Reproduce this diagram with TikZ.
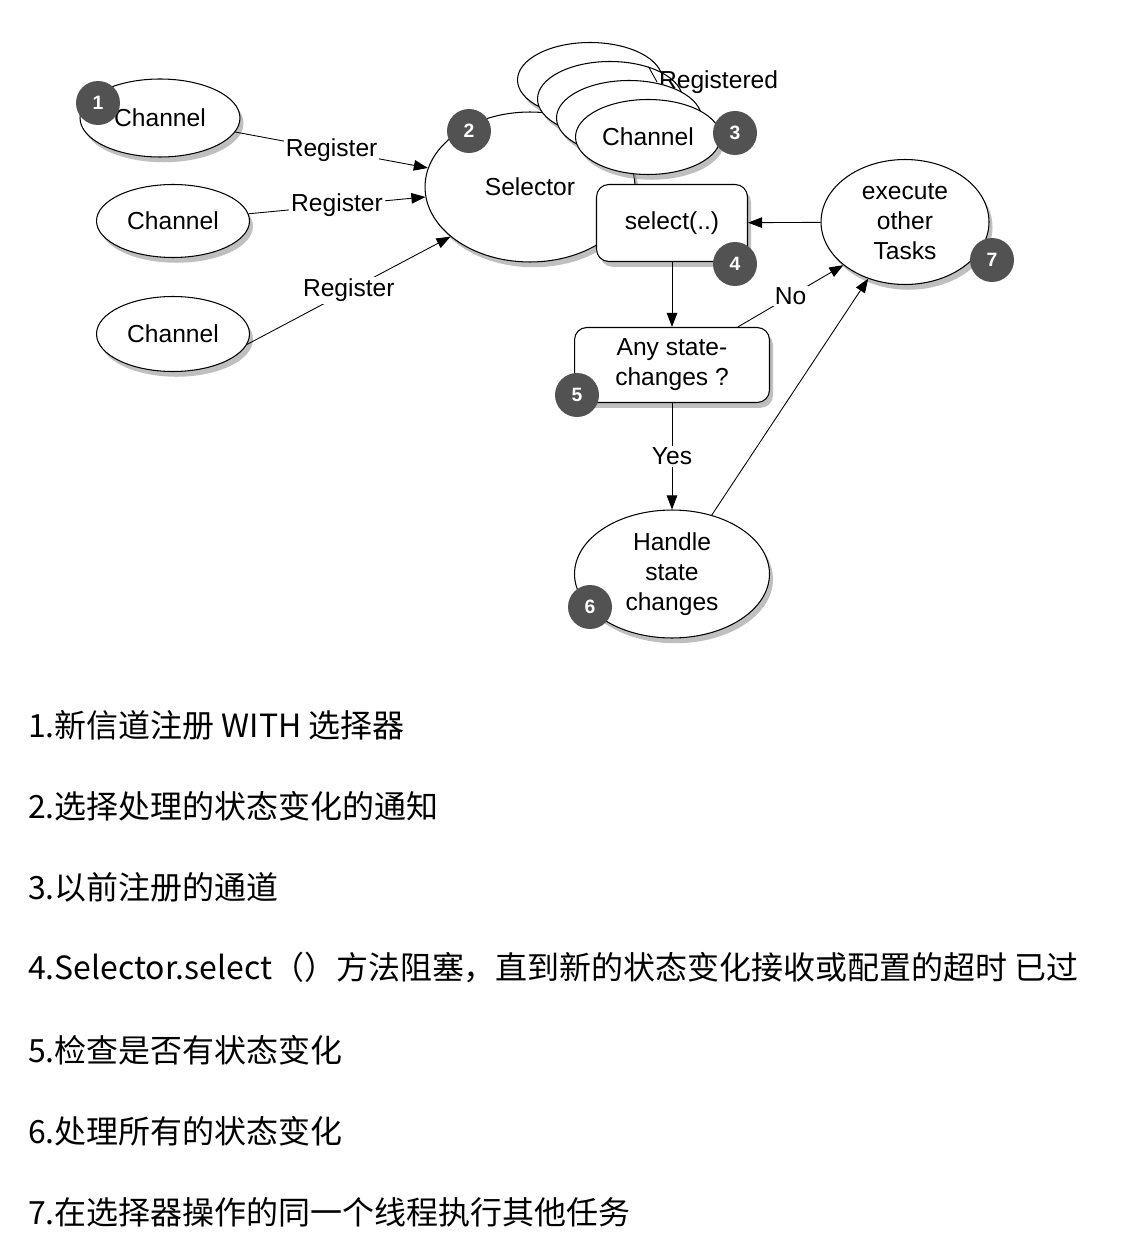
\documentclass[tikz,border=0pt]{standalone}
\usepackage{fontspec}
\setmainfont{Liberation Sans}
\newfontfamily\cjk{Noto Sans CJK SC}
\usetikzlibrary{shapes.geometric,shadows,arrows.meta}

\begin{document}
\begin{tikzpicture}[x=0.02cm,y=-0.02cm,
        every node/.style={font=\fontsize{14}{17}\selectfont},
        ell/.style={draw,ellipse,fill=white,inner sep=0pt,line width=0.6pt,align=center,
                drop shadow={opacity=0.5,shadow xshift=2pt,shadow yshift=-3pt}},
        boxed/.style={draw,rectangle,rounded corners=7pt,fill=white,inner sep=0pt,line width=0.6pt,align=center,
                drop shadow={opacity=0.5,shadow xshift=2pt,shadow yshift=-3pt}},
        badge/.style={circle,fill=black!68,text=white,inner sep=0pt,minimum size=0.88cm,
                font=\fontsize{11}{13}\selectfont\bfseries},
        arr/.style={-{Triangle[length=8pt,width=6pt]},line width=0.5pt},
        lbl/.style={fill=white,inner sep=1pt},
        riga/.style={anchor=west,font=\fontsize{18.2}{22}\selectfont\cjk}]
        \useasboundingbox (0,0) rectangle (1120,1246);
        %canali
        \node[ell,minimum width=3.2cm,minimum height=1.56cm] (ch1) at (160,118) {Channel};
        \node[ell,minimum width=3.06cm,minimum height=1.46cm] (ch2) at (173,221) {Channel};
        \node[ell,minimum width=3.06cm,minimum height=1.5cm] (ch3) at (173,334) {Channel};
        %selettore
        \node[ell,minimum width=4.2cm,minimum height=3cm] (sel) at (530,187) {Selector};
        \node[ell,minimum width=2.9cm,minimum height=1.5cm] (st3) at (590,80) {};
        \node[ell,minimum width=2.9cm,minimum height=1.5cm] (st2) at (610,99) {};
        \node[anchor=west,inner sep=1pt] (reg) at (657,82) {Registered};
        \draw[line width=0.5pt] (st2.40) -- (reg.west);
        \node[ell,minimum width=2.9cm,minimum height=1.5cm] (st1) at (629,118) {};
        \node[ell,minimum width=2.9cm,minimum height=1.5cm] (ch4) at (648,137) {Channel};
        \node[boxed,minimum width=3.02cm,minimum height=1.54cm] (slct) at (672,223) {select(..)};
        %ciclo
        \node[ell,minimum width=3.36cm,minimum height=2.5cm] (exec) at (905,222) {execute\\other\\Tasks};
        \node[boxed,minimum width=3.9cm,minimum height=1.5cm] (any) at (672,365) {Any state-\\changes ?};
        \node[ell,minimum width=3.9cm,minimum height=2.56cm] (hndl) at (672,574) {Handle\\state\\changes};
        %frecce
        \draw[arr] (ch1) -- node[lbl] {Register} (sel);
        \draw[arr] (ch2) -- node[lbl] {Register} (sel);
        \draw[arr] (ch3.-8) -- node[lbl] {Register} (sel.212);
        \draw[arr] (exec) -- (slct);
        \draw[arr] (slct) -- (any);
        \draw[arr] (any.30) -- node[lbl] {No} (exec.215);
        \draw[arr] (any) -- node[lbl] {Yes} (hndl);
        \draw[arr] (hndl.56) -- (exec.237);
        %numeri
        \node[badge] (n1) at (98,103) {1};
        \node[badge] (n2) at (469,131) {2};
        \node[badge] (n3) at (735,133) {3};
        \node[badge] (n4) at (735,264) {4};
        \node[badge] (n5) at (577,395) {5};
        \node[badge] (n6) at (590,607) {6};
        \node[badge] (n7) at (992,260) {7};
        %legenda
        \node[riga] (r1) at (22,725) {1.新信道注册 WITH 选择器};
        \node[riga] (r2) at (22,806) {2.选择处理的状态变化的通知};
        \node[riga] (r3) at (22,887) {3.以前注册的通道};
        \node[riga] (r4) at (22,968) {4.Selector.select（）方法阻塞，直到新的状态变化接收或配置的超时 已过};
        \node[riga] (r5) at (22,1050) {5.检查是否有状态变化};
        \node[riga] (r6) at (22,1131) {6.处理所有的状态变化};
        \node[riga] (r7) at (22,1212) {7.在选择器操作的同一个线程执行其他任务};
\end{tikzpicture}
\end{document}
